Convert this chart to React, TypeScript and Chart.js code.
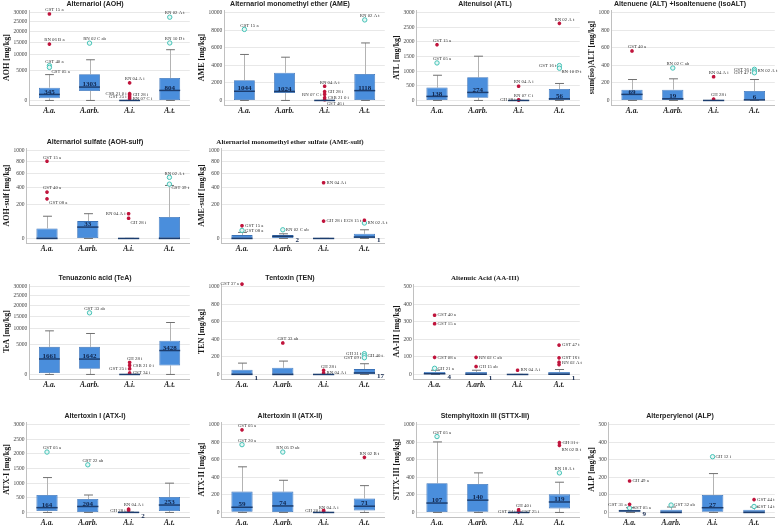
import React, { useEffect, useRef } from 'react';
import { Chart, registerables, LinearScale } from 'chart.js';

Chart.register(...registerables);

// ---------------- data ----------------
const CATS = ['A.a.', 'A.arb.', 'A.i.', 'A.t.'];

const TICKS_30000 = [0, 5000, 10000, 15000, 20000, 25000, 30000];
const TICKS_10000 = [0, 2000, 4000, 6000, 8000, 10000];
const TICKS_3000 = [0, 500, 1000, 1500, 2000, 2500, 3000];
const TICKS_1000 = [0, 200, 400, 600, 800, 1000];
const TICKS_500 = [0, 100, 200, 300, 400, 500];

// box stats per category: [lower whisker, Q1, median, Q3, upper whisker]
// outliers: [category index, value, case label, 'e' = extreme (*) | 'o' = outlier (o)]
const AOH_BOX = [[0, 60, 345, 1210, 3900], [0, 730, 1303, 4000, 8300], [0, 0, 0, 0, 0], [0, 5, 804, 3100, 12000]];
const AOH_OUT = [
  [0, 29200, 'GST 15 a', 'e'], [0, 14300, 'RN 06 B a', 'e'], [0, 6400, 'GST 40 a', 'o'], [0, 5870, 'GST 05 a', 'o'],
  [1, 14700, 'RN 02 C ab', 'o'], [2, 2050, 'RN 04 A i', 'e'], [2, 420, 'CSB 21 0 i', 'e'], [2, 300, 'GH 28 i', 'e'],
  [2, 140, 'GST 25 i', 'e'], [2, 50, 'RN 07 C i', 'e'], [3, 27400, 'RN 02 A t', 'o'], [3, 14780, 'RN 10 D t', 'o'],
];

const AME_BOX = [[0, 0, 1044, 2310, 5230], [0, 840, 1024, 3150, 4920], [0, 0, 0, 0, 0], [0, 0, 1118, 3000, 6540]];
const AME_OUT = [
  [0, 8080, 'GST 15 a', 'o'], [2, 1615, 'RN 04 A i', 'e'], [2, 1000, 'GH 28 i', 'e'], [2, 690, 'RN 07 C i', 'e'],
  [2, 310, 'CSB 21 0 i', 'e'], [2, 77, 'GST 46 i', 'e'], [3, 9160, 'RN 02 A t', 'o'],
];

const ATL_BOX = [[0, 0, 138, 440, 860], [0, 93, 274, 790, 1510], [0, 0, 0, 0, 0], [0, 0, 56, 390, 580]];
const ATL_OUT = [
  [0, 1900, 'GST 15 a', 'e'], [0, 1280, 'GST 05 a', 'o'], [2, 485, 'RN 04 A i', 'e'], [2, 20, 'RN 07 C i', 'e'],
  [2, 10, 'GH 28 i', 'e'], [3, 2630, 'RN 02 A t', 'e'], [3, 1190, 'GST 16 t', 'o'], [3, 1100, 'RN 10 D t', 'o'],
];

const ALT_BOX = [[0, 0, 69, 123, 238], [0, 0, 19, 123, 246], [0, 0, 0, 0, 0], [0, 0, 6, 108, 238]];
const ALT_OUT = [
  [0, 562, 'GST 40 a', 'e'], [1, 369, 'RN 02 C ab', 'o'], [2, 269, 'RN 04 A i', 'e'], [2, 15, 'GH 28 i', 'e'],
  [3, 354, 'GST 36 t', 'o'], [3, 335, 'RN 02 A t', 'o'], [3, 315, 'GST 47 t', 'o'],
];

const AOHS_BOX = [[0, 0, 0, 27, 101], [0, 0, 33, 67, 121], [0, 0, 0, 0, 0], [0, 0, 0, 95, 430]];
const AOHS_OUT = [
  [0, 805, 'GST 15 a', 'e'], [0, 344, 'GST 40 a', 'e'], [0, 264, 'GST 08 a', 'e'], [2, 121, 'RN 04 A i', 'e'],
  [2, 86, 'GH 28 i', 'e'], [3, 545, 'RN 02 A t', 'o'], [3, 448, 'GST 39 t', 'o'],
];

const AMES_BOX = [[0, 0, 0, 4.3, 11.5], [0, 0, 2, 4.3, 7.5], [0, 0, 0, 0, 0], [0, 0, 1, 7.5, 21]];
const AMES_OUT = [
  [0, 40, 'GST 15 a', 'e'], [0, 18.7, 'GST 08 a', 'o'], [1, 21, 'RN 02 C ab', 'o'], [2, 468, 'RN 04 A i', 'e'],
  [2, 67, 'GH 28 i', 'e'], [3, 72, 'EGS 15 t', 'e'], [3, 55, 'RN 02 A t', 'o'],
];

const TEA_BOX = [[0, 30, 1661, 4350, 9320], [0, 310, 1642, 4350, 8400], [0, 0, 0, 0, 0], [0, 670, 3428, 6060, 12480]];
const TEA_OUT = [
  [1, 16600, 'GST 33 ab', 'o'], [2, 1083, 'GH 28 i', 'e'], [2, 670, 'CSB 21 0 i', 'e'], [2, 310, 'GST 25 i', 'e'],
  [2, 30, 'GST 34 i', 'e'],
];

const TEN_BOX = [[0, 0, 1, 53, 129], [0, 0, 0, 76, 152], [0, 0, 0, 0, 0], [0, 3, 17, 61, 122]];
const TEN_OUT = [
  [0, 1027, 'GST 37 a', 'e'], [1, 357, 'GST 33 ab', 'e'], [2, 46, 'GH 28 i', 'e'], [2, 15, 'RN 04 A i', 'e'],
  [3, 236, 'GH 31 t', 'o'], [3, 213, 'GH 40 t', 'o'], [3, 190, 'GST 09 t', 'o'],
];

const AA_BOX = [[0, 0, 4, 14, 24], [0, 0, 1, 14, 24], [0, 0, 0, 0, 0], [0, 0, 1, 14, 28]];
const AA_OUT = [
  [0, 337, 'GST 40 a', 'e'], [0, 288, 'GST 15 a', 'e'], [0, 97, 'GST 08 a', 'e'], [0, 35, 'GH 21 a', 'o'],
  [1, 97, 'RN 02 C ab', 'e'], [1, 45, 'GH 15 ab', 'e'], [2, 24, 'RN 04 A i', 'e'],
  [3, 167, 'GST 47 t', 'e'], [3, 94, 'GST 16 t', 'e'], [3, 69, 'RN 02 A t', 'e'], [3, 56, '', 'e'],
];

const ATX1_BOX = [[0, 46, 164, 595, 1190], [0, 0, 204, 458, 595], [0, 0, 2, 5, 10], [0, 46, 253, 527, 1000]];
const ATX1_OUT = [
  [0, 2061, 'GST 05 a', 'o'], [1, 1626, 'GST 22 ab', 'o'], [2, 115, 'RN 04 A i', 'e'], [2, 69, 'GH 28 i', 'e'],
];

const ATX2_BOX = [[0, 8, 59, 237, 519], [0, 0, 74, 237, 366], [0, 0, 0, 0, 0], [0, 23, 71, 160, 305]];
const ATX2_OUT = [
  [0, 939, 'GST 05 a', 'e'], [0, 771, 'GST 20 a', 'o'], [1, 687, 'RN 05 D ab', 'o'], [2, 23, 'GH 20 i', 'e'],
  [2, 12, 'RN 04 A i', 'e'], [3, 626, 'RN 02 B t', 'e'],
];

const STTX_BOX = [[0, 0, 107, 332, 802], [0, 8, 140, 324, 450], [0, 0, 0, 0, 0], [0, 46, 119, 206, 344]];
const STTX_OUT = [
  [0, 863, 'GST 05 a', 'o'], [2, 30, 'GH 40 i', 'e'], [2, 12, 'GST 34 i', 'e'], [2, 6, 'GST 25 i', 'e'],
  [3, 794, 'GH 31 t', 'e'], [3, 763, 'RN 02 B t', 'e'], [3, 450, 'RN 18 A t', 'o'],
];

const ALP_BOX = [[0, 4, 9, 15, 27], [0, 0, 0, 15, 31], [0, 4, 27, 99, 221], [0, 0, 0, 15, 31]];
const ALP_OUT = [
  [0, 179, 'GH 49 a', 'e'], [0, 46, 'GST 31 a', 'e'], [0, 25, 'GST 05 a', 'o'], [1, 42, 'GST 32 ab', 'o'],
  [2, 317, 'GH 12 i', 'o'], [3, 73, 'GST 44 t', 'e'], [3, 34, 'GST 14 t', 'o'],
];

// ---------------- label placement (layout only) ----------------
// r = right, l = left, a = above, b = below-right
const AOH_SIDE = 'aaabaalrlraa';
const AME_SIDE = 'aarlrba';
const ATL_SIDE = 'aaaalalb';
const ALT_SIDE = 'aaaalrl';
const AOHS_SIDE = 'aablbab';
const AMES_SIDE = 'rrrrrlr';
const TEA_SIDE = 'aarlr';
const TEN_SIDE = 'laarlrl';
const AA_SIDE = 'rrrrrrrrrrr';
const ATX1_SIDE = 'aaal';
const ATX2_SIDE = 'aaalaa';
const STTX_SIDE = 'aalrrba';
const ALP_SIDE = 'rlrrrrr';

// ---------------- power scale (SPSS-like) ----------------
const POW = 0.6;
const powF = (v: number) => Math.sign(v) * Math.pow(Math.abs(v), POW);
const powI = (g: number) => Math.sign(g) * Math.pow(Math.abs(g), 1 / POW);

class PowerScale extends LinearScale {
  static id = 'power';
  static defaults = {};
  getPixelForValue(value: number) {
    if (value === null || value === undefined || isNaN(value)) return NaN;
    const lo = powF(this.min), hi = powF(this.max);
    return this.getPixelForDecimal((powF(value) - lo) / (hi - lo));
  }
  getValueForPixel(pixel: number) {
    const lo = powF(this.min), hi = powF(this.max);
    return powI(lo + this.getDecimalForPixel(pixel) * (hi - lo));
  }
}
Chart.register(PowerScale);

// ---------------- panel specs ----------------
type Spec = {
  title: string; yTitle: string; power: boolean; ticks: number[];
  box: number[][]; out: any[]; side: string; row: number; col: number; serifTitle?: boolean;
};

const SPECS: Spec[] = [
  { title: 'Alternariol (AOH)', yTitle: 'AOH [mg/kg]', power: true, ticks: TICKS_30000, box: AOH_BOX, out: AOH_OUT, side: AOH_SIDE, row: 0, col: 0 },
  { title: 'Alternariol monomethyl ether (AME)', yTitle: 'AME [mg/kg]', power: false, ticks: TICKS_10000, box: AME_BOX, out: AME_OUT, side: AME_SIDE, row: 0, col: 1 },
  { title: 'Altenuisol (ATL)', yTitle: 'ATL [mg/kg]', power: false, ticks: TICKS_3000, box: ATL_BOX, out: ATL_OUT, side: ATL_SIDE, row: 0, col: 2 },
  { title: 'Altenuene (ALT) +Isoaltenuene (isoALT)', yTitle: 'sum(iso)ALT [mg/kg]', power: false, ticks: TICKS_1000, box: ALT_BOX, out: ALT_OUT, side: ALT_SIDE, row: 0, col: 3 },
  { title: 'Alternariol sulfate (AOH-sulf)', yTitle: 'AOH-sulf [mg/kg]', power: true, ticks: TICKS_1000, box: AOHS_BOX, out: AOHS_OUT, side: AOHS_SIDE, row: 1, col: 0 },
  { title: 'Alternariol monomethyl ether sulfate (AME-sulf)', yTitle: 'AME-sulf [mg/kg]', power: true, ticks: TICKS_1000, box: AMES_BOX, out: AMES_OUT, side: AMES_SIDE, row: 1, col: 1, serifTitle: true },
  { title: 'Tenuazonic acid (TeA)', yTitle: 'TeA [mg/kg]', power: true, ticks: TICKS_30000, box: TEA_BOX, out: TEA_OUT, side: TEA_SIDE, row: 2, col: 0 },
  { title: 'Tentoxin (TEN)', yTitle: 'TEN [mg/kg]', power: false, ticks: TICKS_1000, box: TEN_BOX, out: TEN_OUT, side: TEN_SIDE, row: 2, col: 1 },
  { title: 'Altenuic Acid (AA-III)', yTitle: 'AA-III [mg/kg]', power: false, ticks: TICKS_500, box: AA_BOX, out: AA_OUT, side: AA_SIDE, row: 2, col: 2, serifTitle: true },
  { title: 'Altertoxin I (ATX-I)', yTitle: 'ATX-I [mg/kg]', power: false, ticks: TICKS_3000, box: ATX1_BOX, out: ATX1_OUT, side: ATX1_SIDE, row: 3, col: 0 },
  { title: 'Altertoxin II (ATX-II)', yTitle: 'ATX-II [mg/kg]', power: false, ticks: TICKS_1000, box: ATX2_BOX, out: ATX2_OUT, side: ATX2_SIDE, row: 3, col: 1 },
  { title: 'Stemphyltoxin III (STTX-III)', yTitle: 'STTX-III [mg/kg]', power: false, ticks: TICKS_1000, box: STTX_BOX, out: STTX_OUT, side: STTX_SIDE, row: 3, col: 2 },
  { title: 'Alterperylenol (ALP)', yTitle: 'ALP [mg/kg]', power: false, ticks: TICKS_500, box: ALP_BOX, out: ALP_OUT, side: ALP_SIDE, row: 3, col: 3 },
];

// ---------------- layout & style ----------------
const ROW_TITLE_Y = [4, 142, 278, 416];
const COL_X = [0, 195, 390, 585];
const W = 195;
const H = 120;
const TITLE_X = 95;
const SERIF = '"Liberation Serif", "DejaVu Serif", serif';
const SANS = '"Liberation Sans", Arial, sans-serif';
const BOX_FILL = '#4a8edc';
const BOX_EDGE = '#3a72b8';
const MEDIAN = '#1c3d6e';
const STEM = '#b3b3b3';
const CAP = '#707070';
const GRID = '#e2e2e2';
const AXIS = '#c0c0c0';
const EXTREME = '#c0143c';
const OUTLIER = '#45c2b6';

function makeConfig(s: Spec): any {
  const f = (v: number) => (s.power ? powF(v) : v);
  const fi = (g: number) => (s.power ? powI(g) : g);
  const gTop = f(s.ticks[s.ticks.length - 1]);
  const min = fi((-gTop * 4.5) / 87);
  const max = fi(gTop * (1 + 2.5 / 87));
  const ext = s.out.filter((o) => o[3] === 'e');
  const oth = s.out.filter((o) => o[3] === 'o');

  const extras = {
    id: 'boxExtras',
    beforeDatasetsDraw(chart: any) {
      const { ctx } = chart;
      const xs = chart.scales.x, ys = chart.scales.y;
      const meta = chart.getDatasetMeta(0);
      ctx.save();
      s.box.forEach((b, i) => {
        const cx = Math.round(xs.getPixelForValue(i)) + 0.5;
        const bw = meta.data[i].width;
        const cap = bw * 0.42;
        const y0 = ys.getPixelForValue(b[0]), y1 = ys.getPixelForValue(b[1]);
        const y3 = ys.getPixelForValue(b[3]), y4 = ys.getPixelForValue(b[4]);
        ctx.lineWidth = 1;
        ctx.strokeStyle = STEM;
        ctx.beginPath();
        ctx.moveTo(cx, y0); ctx.lineTo(cx, y1);
        ctx.moveTo(cx, y3); ctx.lineTo(cx, y4);
        ctx.stroke();
        ctx.strokeStyle = CAP;
        ctx.beginPath();
        ctx.moveTo(cx - cap / 2, y0); ctx.lineTo(cx + cap / 2, y0);
        ctx.moveTo(cx - cap / 2, y4); ctx.lineTo(cx + cap / 2, y4);
        ctx.stroke();
      });
      ctx.restore();
    },
    afterDatasetsDraw(chart: any) {
      const { ctx } = chart;
      const xs = chart.scales.x, ys = chart.scales.y;
      const meta = chart.getDatasetMeta(0);
      ctx.save();
      s.box.forEach((b, i) => {
        const cx = xs.getPixelForValue(i);
        const bw = meta.data[i].width;
        const ym = ys.getPixelForValue(b[2]);
        ctx.strokeStyle = MEDIAN;
        ctx.lineWidth = 1.5;
        ctx.beginPath();
        ctx.moveTo(cx - bw / 2, ym); ctx.lineTo(cx + bw / 2, ym);
        ctx.stroke();
        const lbl = Math.round(b[2]);
        if (lbl > 0) {
          const h = ys.getPixelForValue(b[1]) - ys.getPixelForValue(b[3]);
          ctx.fillStyle = '#10244a';
          ctx.font = `bold 7px ${SERIF}`;
          ctx.textBaseline = 'middle';
          if (h >= 8) {
            ctx.textAlign = 'center';
            ctx.fillText(String(lbl), cx, ym - 2.6);
          } else {
            ctx.textAlign = 'left';
            ctx.fillText(String(lbl), cx + bw / 2 + 2, ym + 3.5);
          }
        }
      });
      ctx.font = `4.8px ${SERIF}`;
      ctx.fillStyle = '#333';
      ctx.textBaseline = 'middle';
      s.out.forEach((o, k) => {
        if (!o[2]) return;
        const px = xs.getPixelForValue(o[0]);
        const py = ys.getPixelForValue(o[1]);
        const side = s.side[k] || 'r';
        if (side === 'r') { ctx.textAlign = 'left'; ctx.fillText(o[2], px + 3, py); }
        else if (side === 'l') { ctx.textAlign = 'right'; ctx.fillText(o[2], px - 3, py); }
        else if (side === 'a') { ctx.textAlign = 'center'; ctx.fillText(o[2], px + 5, py - 4); }
        else { ctx.textAlign = 'left'; ctx.fillText(o[2], px + 2, py + 4); }
      });
      ctx.restore();
    },
    afterDraw(chart: any) {
      const { ctx } = chart;
      ctx.save();
      ctx.fillStyle = '#222';
      ctx.font = `bold 7px ${s.serifTitle ? SERIF : SANS}`;
      ctx.textAlign = 'center';
      ctx.textBaseline = 'middle';
      ctx.fillText(s.title, TITLE_X, 6);
      ctx.restore();
    },
  };

  return {
    type: 'bar',
    data: {
      labels: CATS,
      datasets: [
        {
          type: 'bar',
          data: s.box.map((b) => [b[1], b[3]]),
          backgroundColor: BOX_FILL,
          borderColor: BOX_EDGE,
          borderWidth: 0.8,
          borderSkipped: false,
          barPercentage: 0.52,
          categoryPercentage: 1,
          order: 2,
        },
        {
          type: 'line',
          data: ext.map((o) => ({ x: CATS[o[0]], y: o[1] })),
          showLine: false,
          pointStyle: 'star',
          pointRadius: 1.8,
          pointBorderWidth: 1.2,
          pointBorderColor: EXTREME,
          pointBackgroundColor: EXTREME,
          clip: false,
          order: 0,
        },
        {
          type: 'line',
          data: oth.map((o) => ({ x: CATS[o[0]], y: o[1] })),
          showLine: false,
          pointStyle: 'circle',
          pointRadius: 2.2,
          pointBorderWidth: 1,
          pointBorderColor: OUTLIER,
          pointBackgroundColor: '#e4f7f5',
          clip: false,
          order: 0,
        },
      ],
    },
    options: {
      animation: false,
      responsive: false,
      events: [],
      layout: { padding: { top: 12, left: 0, right: 3, bottom: 0 } },
      plugins: { legend: { display: false }, tooltip: { enabled: false }, title: { display: false } },
      scales: {
        x: {
          type: 'category',
          offset: true,
          grid: { display: false, drawTicks: false },
          border: { display: true, color: AXIS },
          ticks: {
            font: { family: SERIF, size: 7.5, weight: 'bold', style: 'italic' },
            color: '#222',
            padding: 2,
            maxRotation: 0,
            autoSkip: false,
          },
        },
        y: {
          type: s.power ? 'power' : 'linear',
          min,
          max,
          bounds: 'data',
          afterBuildTicks: (sc: any) => {
            sc.ticks = s.ticks.map((v) => ({ value: v }));
          },
          grid: { color: GRID, drawTicks: false, lineWidth: 0.8 },
          border: { display: true, color: AXIS },
          ticks: {
            font: { family: SERIF, size: 5.5 },
            color: '#444',
            padding: 2,
            callback: (v: any) => String(v),
          },
          title: {
            display: true,
            text: s.yTitle,
            font: { family: SERIF, size: 8, weight: 'bold' },
            color: '#1a1a1a',
            padding: { top: 2, bottom: 0 },
          },
        },
      },
    },
    plugins: [extras],
  };
}

function Panel({ s }: { s: Spec }) {
  const ref = useRef<HTMLCanvasElement>(null);
  useEffect(() => {
    const chart = new Chart(ref.current as HTMLCanvasElement, makeConfig(s));
    return () => chart.destroy();
  }, [s]);
  return (
    <canvas
      ref={ref}
      width={W}
      height={H}
      style={{ position: 'absolute', left: COL_X[s.col], top: ROW_TITLE_Y[s.row] - 6, width: W, height: H }}
    />
  );
}

export default function App() {
  return (
    <div style={{ position: 'absolute', left: 0, top: 0, width: 778, height: 526, background: '#fff', overflow: 'hidden' }}>
      {SPECS.map((s, i) => (
        <Panel key={i} s={s} />
      ))}
    </div>
  );
}
